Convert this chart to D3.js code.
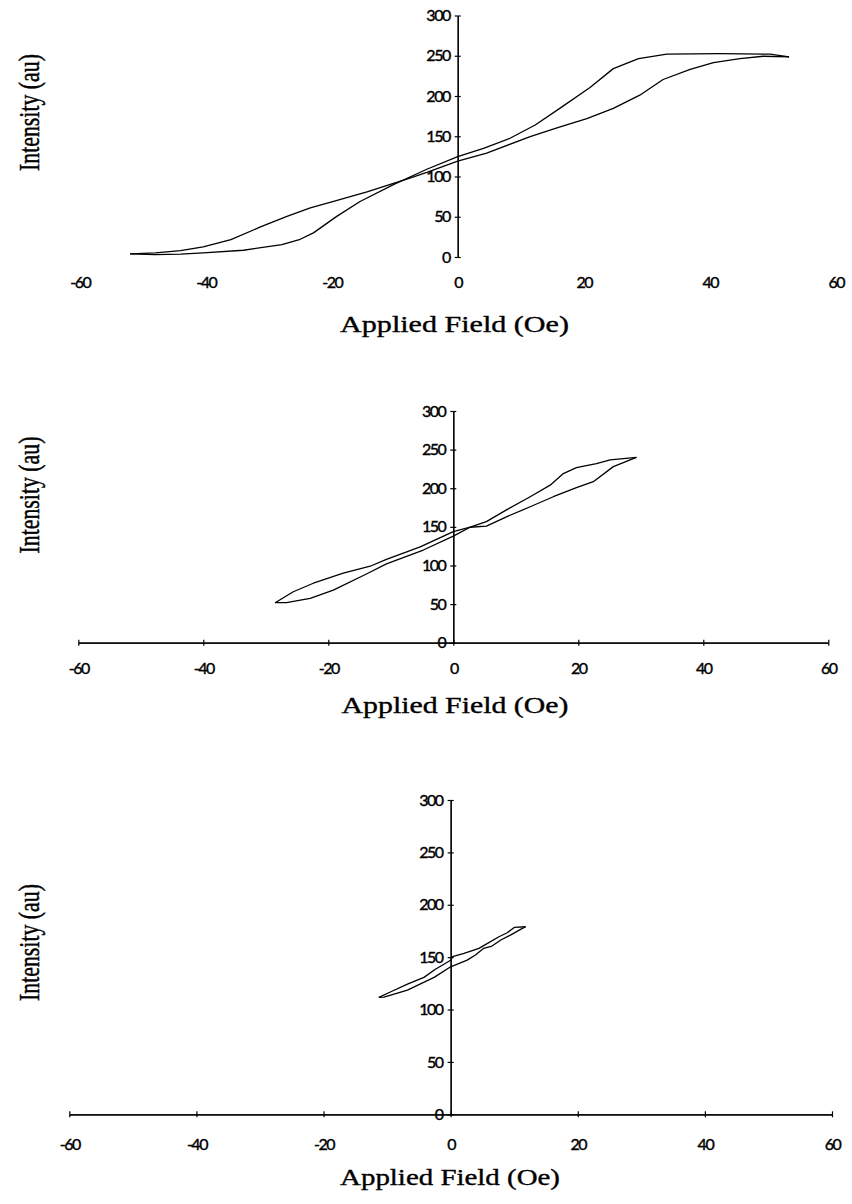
<!DOCTYPE html>
<html>
<head>
<meta charset="utf-8">
<script src="https://cdn.jsdelivr.net/npm/d3@7"></script>
<style>
  body { margin: 0; background: #fff; }
  svg { display: block; }
</style>
</head>
<body>
<svg id="chart" width="852" height="1204"></svg>
<script>

var fieldTicks = [-60, -40, -20, 0, 20, 40, 60];
var intensityTicks = [0, 50, 100, 150, 200, 250, 300];

// panel 1: +/-52 Oe sweep, [field, intensity]
var panel1BranchA = [[-52, 4], [-48, 5], [-44, 8], [-40.4, 12.6], [-36, 21.7], [-31.4, 37], [-27.1, 50.5],
  [-23.4, 61], [-19.7, 69], [-14.4, 81], [-7.6, 98], [-4.9, 105], [0, 119], [4.6, 129], [11.5, 149.5],
  [16, 161], [20.5, 172], [24.7, 184.6], [28.9, 201], [32.6, 220.5], [36.9, 233], [40.6, 241.5],
  [44.8, 246.5], [48.5, 249.4], [52.6, 248.5]];
var panel1BranchB = [[-52, 4], [-48, 3], [-44, 3.5], [-40.4, 5], [-34, 8.4], [-27.9, 15.5], [-25, 22],
  [-22.9, 30], [-19.2, 50.5], [-15.5, 69], [-10.2, 90], [-4.9, 109], [0, 124.8], [4.1, 135], [8.3, 147.5],
  [12.3, 164], [16.2, 184.6], [21, 210.6], [24.7, 234], [28.7, 246.5], [33.2, 252], [41.6, 252.7],
  [49.6, 252], [52.6, 248.5]];

// panel 2: +/-29 Oe sweep
var panel2BranchA = [[-28.5, 51.8], [-25.6, 66], [-22.4, 77], [-17.6, 90], [-13.3, 99], [-10.7, 108],
  [-5.3, 124], [0, 143.8], [2.7, 149.5], [5.3, 151], [8.5, 163], [12.3, 176], [16, 189], [19.7, 200.8],
  [22.4, 208.5], [25.6, 228], [29.3, 240]];
var panel2BranchB = [[-28.5, 51.8], [-26.7, 51.8], [-22.9, 57.5], [-19.2, 68], [-13.9, 89], [-10.7, 102],
  [-4.8, 120], [0, 138], [2.7, 149.5], [5.3, 156.7], [8.5, 172], [12.3, 189], [15.5, 204], [17.6, 219],
  [19.7, 226.7], [22.9, 232], [25.1, 236.7], [29.3, 240]];

// panel 3: +/-12 Oe sweep
var panel3BranchA = [[-11.3, 111.6], [-9.4, 117], [-6.8, 124.3], [-4.2, 130.7], [-2.4, 138.4], [0, 147],
  [0.3, 150.4], [2.1, 153.6], [4.45, 158.4], [5.8, 163.2], [7.6, 169.5], [8.9, 173.3], [10, 178.4], [11.8, 179]];
var panel3BranchB = [[-11.3, 111.6], [-10.5, 111.8], [-8.9, 114.8], [-6.8, 118.6], [-2.6, 130.7], [0, 140.8],
  [2.6, 147.2], [3.9, 152], [5.2, 158.4], [6.5, 160.6], [7.9, 166.4], [9.4, 171], [11, 176.5], [11.8, 179]];

var panels = [
  { branches: [panel1BranchA, panel1BranchB], xRange: [79.7, 835.7], yRange: [257, 15.5],
    xAxisLine: false, xPad: 17, title: [454.5, 332, 229], yTitle: [39, 112.5] },
  { branches: [panel2BranchA, panel2BranchB], xRange: [78.3, 828.3], yRange: [642.7, 411],
    xAxisLine: true, xPad: 17, title: [455, 713, 227], yTitle: [39, 495] },
  { branches: [panel3BranchA, panel3BranchB], xRange: [69.3, 832], yRange: [1114.3, 800],
    xAxisLine: true, xPad: 21, title: [450, 1185, 220], yTitle: [39, 942.5] }
];

var svg = d3.select("#chart");
var tickFont = "Lato, sans-serif";
var serifFont = "'Liberation Serif', 'Times New Roman', serif";
var plain = function(d) { return String(d); };

function styleAxis(g) {
  g.selectAll("path, line").attr("stroke", "#000").attr("stroke-width", 1.2);
  g.selectAll("text")
    .attr("fill", "#000")
    .attr("stroke", "#000")
    .attr("stroke-width", 0.4)
    .style("font-family", tickFont)
    .style("font-size", "16px")
    .style("letter-spacing", "-1.5px");
}

panels.forEach(function(p) {
  var x = d3.scaleLinear().domain([-60, 60]).range(p.xRange);
  var y = d3.scaleLinear().domain([0, 300]).range(p.yRange);
  var g = svg.append("g");

  // x axis, crossing ticks on panels 2 and 3, labels only on panel 1
  var xb = g.append("g")
    .attr("transform", "translate(0," + y(0) + ")")
    .call(d3.axisBottom(x).tickValues(fieldTicks).tickFormat(plain)
      .tickSizeInner(3).tickSizeOuter(0).tickPadding(p.xPad));
  styleAxis(xb);
  if (p.xAxisLine) {
    g.append("g")
      .attr("transform", "translate(0," + y(0) + ")")
      .call(d3.axisTop(x).tickValues(fieldTicks).tickFormat("").tickSizeInner(3).tickSizeOuter(0))
      .call(styleAxis);
  } else {
    xb.select(".domain").remove();
    xb.selectAll(".tick line").remove();
  }

  // y axis through zero field
  g.append("g")
    .attr("transform", "translate(" + x(0) + ",0)")
    .call(d3.axisLeft(y).tickValues(intensityTicks).tickFormat(plain)
      .tickSizeInner(3).tickSizeOuter(0).tickPadding(5))
    .call(styleAxis);
  g.append("g")
    .attr("transform", "translate(" + x(0) + ",0)")
    .call(d3.axisRight(y).tickValues(intensityTicks).tickFormat("").tickSizeInner(3).tickSizeOuter(0))
    .call(styleAxis);

  var line = d3.line()
    .x(function(d) { return x(d[0]); })
    .y(function(d) { return y(d[1]); });

  g.selectAll(".branch")
    .data(p.branches)
    .enter()
    .append("path")
    .attr("class", "branch")
    .attr("d", line)
    .attr("fill", "none")
    .attr("stroke", "#000")
    .attr("stroke-width", 1.3)
    .attr("stroke-linejoin", "round");

  // axis titles, stretched sideways like the scanned original
  var xt = g.append("text")
    .attr("text-anchor", "middle")
    .style("font-family", serifFont)
    .style("font-size", "22.5px")
    .attr("fill", "#000")
    .attr("stroke", "#000")
    .attr("stroke-width", 0.35)
    .text("Applied Field (Oe)");
  var sx = p.title[2] / xt.node().getComputedTextLength();
  xt.attr("transform", "translate(" + p.title[0] + "," + p.title[1] + ") scale(" + sx + ",1)");

  var yt = g.append("text")
    .attr("text-anchor", "middle")
    .style("font-family", serifFont)
    .style("font-size", "22px")
    .attr("fill", "#000")
    .attr("stroke", "#000")
    .attr("stroke-width", 0.35)
    .text("Intensity (au)");
  var sy = 117 / yt.node().getComputedTextLength();
  yt.attr("transform", "translate(" + p.yTitle[0] + "," + p.yTitle[1] + ") scale(1.3," + sy + ") rotate(-90)");
});
</script>
</body>
</html>
